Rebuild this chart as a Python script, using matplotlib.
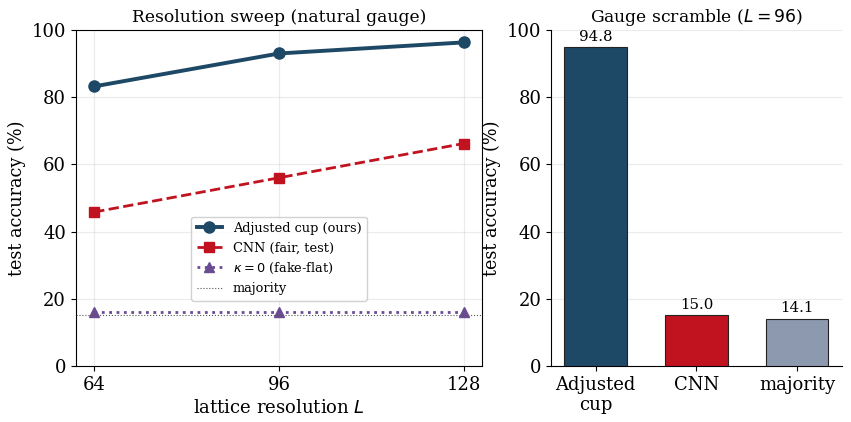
import numpy as np
import matplotlib.pyplot as plt

plt.rcParams['font.family'] = 'DejaVu Serif'
plt.rcParams['mathtext.fontset'] = 'dejavusans'

# resolution sweep
res = [64, 96, 128]
acc_cup = [83.2, 93.0, 96.3]
acc_cnn = [45.8, 56.0, 66.2]
acc_flat = [16.1, 16.1, 16.1]
majority = 15.1

# gauge scramble
bar_names = ['Adjusted\ncup', 'CNN', 'majority']
bar_vals = [94.8, 15.0, 14.1]

c_blue = '#1d4866'
c_red = '#c1121f'
c_purple = '#6a4c93'
c_grey = '#8d99ae'

fig, (ax1, ax2) = plt.subplots(1, 2, figsize=(8.51, 4.22), dpi=100,
                               gridspec_kw={'width_ratios': [1.4, 1]})
plt.subplots_adjust(left=0.089, right=0.989, top=0.929, bottom=0.133, wspace=0.198)

ax1.plot(res, acc_cup, '-o', color=c_blue, lw=2.8, ms=8, label='Adjusted cup (ours)')
ax1.plot(res, acc_cnn, '--s', color=c_red, lw=2.0, ms=7, label='CNN (fair, test)')
ax1.plot(res, acc_flat, ':^', color=c_purple, lw=2.0, ms=7, label=r'$\kappa=0$ (fake-flat)')
ax1.axhline(majority, color='#555555', lw=0.8, ls=':', label='majority')
ax1.set_ylim(0, 100)
ax1.set_xticks(res)
ax1.tick_params(labelsize=13)
ax1.set_xlabel(r'lattice resolution $L$', fontsize=13)
ax1.set_ylabel('test accuracy (%)', fontsize=12.7)
ax1.set_title('Resolution sweep (natural gauge)', fontsize=12.3)
ax1.grid(alpha=0.25)
ax1.legend(fontsize=9.3, loc='lower center', bbox_to_anchor=(0.5, 0.175), framealpha=0.9)

x = np.arange(len(bar_names))
bars = ax2.bar(x, bar_vals, width=0.62, color=[c_blue, c_red, c_grey],
               edgecolor='#222222', lw=0.8, zorder=3)
for b, v in zip(bars, bar_vals):
    ax2.text(b.get_x() + b.get_width() / 2, v + 1.0, f'{v:.1f}', ha='center',
             va='bottom', fontsize=10.8)
ax2.set_xticks(x)
ax2.set_xticklabels(bar_names)
ax2.set_ylim(0, 100)
ax2.tick_params(labelsize=13)
ax2.set_ylabel('test accuracy (%)', fontsize=12.7)
ax2.set_title(r'Gauge scramble ($L=96$)', fontsize=12.3)
ax2.grid(axis='y', alpha=0.25)
ax2.spines['top'].set_visible(False)
ax2.spines['right'].set_visible(False)

fig.savefig('out.png', dpi=100)
